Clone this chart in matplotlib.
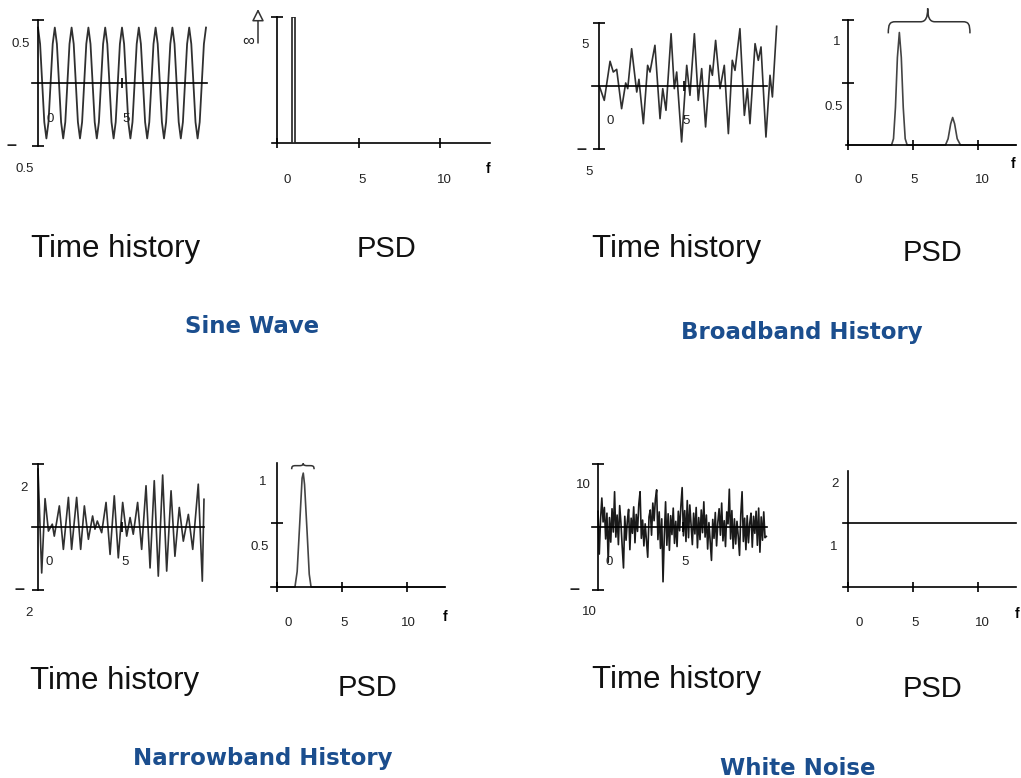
import numpy as np
import matplotlib
matplotlib.use("Agg")
import matplotlib.pyplot as plt
from matplotlib.path import Path
from matplotlib.patches import PathPatch

# ---------------------------------------------------------------- data
# Sine wave time history (values read every 1/8 of a period)
sine_values = [
    0.44, 0.31, 0.0, -0.31, -0.44, -0.31, 0.0, 0.31,
    0.44, 0.31, 0.0, -0.31, -0.44, -0.31, 0.0, 0.31,
    0.44, 0.31, 0.0, -0.31, -0.44, -0.31, 0.0, 0.31,
    0.44, 0.31, 0.0, -0.31, -0.44, -0.31, 0.0, 0.31,
    0.44, 0.31, 0.0, -0.31, -0.44, -0.31, 0.0, 0.31,
    0.44, 0.31, 0.0, -0.31, -0.44, -0.31, 0.0, 0.31,
    0.44, 0.31, 0.0, -0.31, -0.44, -0.31, 0.0, 0.31,
    0.44, 0.31, 0.0, -0.31, -0.44, -0.31, 0.0, 0.31,
    0.44, 0.31, 0.0, -0.31, -0.44, -0.31, 0.0, 0.31,
    0.44, 0.31, 0.0, -0.31, -0.44, -0.31, 0.0, 0.31,
    0.44,
]
sine_time = np.linspace(0, 10, len(sine_values))

# Broadband time history (turning points)
bb_time = [0.02, 0.31, 0.65, 0.84, 1.04, 1.33, 1.57, 1.69, 1.92, 2.22, 2.35, 2.61,
           2.86, 3.00, 3.29, 3.59, 3.75, 3.94, 4.24, 4.43, 4.57, 4.86, 5.16, 5.35,
           5.61, 5.84, 6.04, 6.27, 6.53, 6.67, 6.86, 7.12, 7.37, 7.61, 7.84, 8.00,
           8.29, 8.55, 8.73, 8.88, 9.18, 9.37, 9.53, 9.82, 10.06, 10.20, 10.45]
bb_values = [0.0, -1.14, 1.96, 1.11, 1.32, -1.80, 0.24, -0.21, 2.96, -0.48, 0.53, -2.99,
             1.64, 1.11, 3.23, -2.59, -0.21, -1.93, 4.15, -0.21, 1.11, -4.44, 1.64, -0.74,
             4.15, -1.14, 1.38, -3.25, 1.64, 0.85, 3.62, -0.21, 1.64, -3.78, 2.04, 1.24,
             4.55, -2.33, -0.21, -2.99, 3.36, 2.04, 3.10, -4.05, 0.85, -0.87, 4.74]

# Narrowband time history (turning points)
nb_time = [0.0, 0.22, 0.42, 0.62, 0.85, 0.97, 1.27, 1.51, 1.81, 2.00, 2.30, 2.54,
           2.76, 3.00, 3.25, 3.39, 3.53, 3.79, 4.05, 4.29, 4.54, 4.78, 5.04, 5.28,
           5.48, 5.67, 5.93, 6.17, 6.43, 6.67, 6.92, 7.16, 7.42, 7.66, 7.92, 8.15,
           8.41, 8.65, 8.95, 9.21, 9.54, 9.78, 9.88]
nb_values = [1.84, -1.46, 0.90, -0.13, 0.09, -0.29, 0.67, -0.71, 0.94, -0.71, 0.94, -0.71,
             0.67, -0.39, 0.35, -0.07, 0.19, -0.18, 0.78, -0.87, 0.99, -0.98, 0.78, -0.29,
             0.30, -0.23, 0.78, -0.71, 1.31, -1.30, 1.47, -1.56, 1.65, -1.40, 1.15, -0.93,
             0.62, -0.45, 0.40, -0.71, 1.36, -1.72, 0.88]

# White noise time history (estimated samples)
wn_values = [
    2.5, -4.3, 1.2, 4.6, 0.8, 3.1, -1.9, 2.2, -5.6, 1.5, -2.4, 2.9, -0.8, 5.6,
    -1.6, 1.9, -2.8, 3.4, 0.6, -3.2, -6.5, 1.7, -2.1, 0.9, 2.8, -3.6, 1.4, -1.0,
    3.2, -2.5, 2.0, -0.7, 3.6, 5.6, -1.8, 1.1, -3.0, 0.5, -2.2, -4.8, 1.6, 2.7,
    -1.3, 3.8, 1.0, 4.4, 5.9, -2.0, 2.4, -3.4, 1.3, -8.7, -1.5, 4.0, -2.9, 2.1,
    -3.7, 1.8, -1.2, 3.0, -2.6, 0.9, -3.1, 2.5, -0.6, 3.3, 6.25, -1.4, 2.6, -2.3,
    4.2, -1.7, 3.5, 0.4, -2.8, 2.2, -1.1, 3.1, -3.3, 1.5, -2.0, 2.7, -0.9, 4.0,
    -1.6, 1.9, -3.5, 0.7, -2.4, -5.3, 1.2, -1.8, 2.3, -3.0, 0.8, 2.9, -1.3, 3.8,
    -2.2, 1.0, -3.1, 2.4, 0.5, 6.0, -1.9, 2.6, -3.4, 1.3, -2.7, 0.9, -1.5, -4.5,
    2.0, 5.6, -2.3, 1.4, -3.6, 1.8, -2.5, 0.6, 2.2, -3.2, 1.7, -1.0, 2.5, -2.9,
    3.0, -4.0, 1.6, -2.1, 2.4, -1.7, -1.5,
]
wn_time = np.linspace(0, 9.9, len(wn_values))

# PSDs
sine_psd_freq = [1.0]
sine_psd_level = [1.0]          # spike drawn up to the top ("infinite")
sine_psd_width = 0.2

bb_psd_freq = [0, 3.35, 3.5, 3.65, 3.8, 3.95, 4.1, 4.25, 4.4, 4.55,
               7.5, 7.7, 7.9, 8.05, 8.2, 8.4, 8.65, 12.9]
bb_psd_level = [0, 0, 0.05, 0.3, 0.7, 0.9, 0.7, 0.3, 0.05, 0,
                0, 0.05, 0.17, 0.22, 0.17, 0.05, 0, 0]

nb_psd_freq = [0, 1.38, 1.55, 1.75, 1.93, 2.02, 2.12, 2.32, 2.48, 2.62, 12.9]
nb_psd_level = [0, 0, 0.12, 0.5, 0.85, 0.89, 0.8, 0.42, 0.1, 0, 0]

wn_psd_freq = [-0.38, 12.92]
wn_psd_level = [1.1, 1.1]

time_ticks = [5]
freq_ticks = [0, 5, 10]

# ---------------------------------------------------------------- figure
W, H = 1021, 778
fig = plt.figure(figsize=(W / 100, H / 100), dpi=100)
fig.patch.set_facecolor("white")

AX = "black"
SIG = "#303030"
LBL = "#222222"
BLUE = "#1B4E8E"
FONT = "Liberation Sans"
TSZ = 9.5


def add_px_axes(x0, x1, top, bottom):
    ax = fig.add_axes([x0 / W, 1 - bottom / H, (x1 - x0) / W, (bottom - top) / H])
    ax.patch.set_alpha(0)
    ax.spines[["top", "right"]].set_visible(False)
    for s in ("left", "bottom"):
        ax.spines[s].set_linewidth(1.2)
        ax.spines[s].set_color(AX)
    return ax


def time_panel(x0, x1, axis_x, top, bottom, xs, ymax, zero_right):
    ax = add_px_axes(x0, x1, top, bottom)
    ax.set_xlim((x0 - axis_x) / xs, (x1 - axis_x) / xs)
    ax.set_ylim(-ymax, ymax)
    ax.spines["left"].set_position(("data", 0))
    ax.spines["bottom"].set_position(("data", 0))
    ax.spines["bottom"].set_bounds((x0 - axis_x) / xs, (zero_right - axis_x) / xs)
    ax.set_xticks(time_ticks)
    ax.set_yticks([-ymax, ymax])
    ax.tick_params(axis="y", direction="inout", length=8.6, width=1.2, color=AX,
                   labelleft=False)
    ax.tick_params(axis="x", direction="inout", length=7.5, width=1.2, color=AX,
                   labelbottom=False)
    return ax


def psd_panel(x0, x1, axis_x, top, bottom, xs, ymax, yticks, spine_top=None):
    ax = add_px_axes(x0, x1, top, bottom)
    ax.set_xlim((x0 - axis_x) / xs, (x1 - axis_x) / xs)
    ax.set_ylim(0, ymax)
    ax.spines["left"].set_position(("data", 0))
    if spine_top is not None:
        ax.spines["left"].set_bounds(0, spine_top)
    ax.set_xticks(freq_ticks)
    ax.set_yticks(yticks)
    ax.tick_params(axis="x", direction="inout", length=7.8, width=1.2, color=AX,
                   labelbottom=False)
    ax.tick_params(axis="y", direction="inout", length=8.3, width=1.2, color=AX,
                   labelleft=False)
    return ax


def brace(ax, xl, xr, xm, ye, yb, yt, c):
    verts = [(xl, ye),
             (xl, ye + (yb - ye) * 0.8), (xl + c * 0.2, yb), (xl + c, yb),
             (xm - c, yb),
             (xm - c * 0.3, yb), (xm, yb + (yt - yb) * 0.3), (xm, yt),
             (xm, yb + (yt - yb) * 0.3), (xm + c * 0.3, yb), (xm + c, yb),
             (xr - c, yb),
             (xr - c * 0.2, yb), (xr, ye + (yb - ye) * 0.8), (xr, ye)]
    codes = [Path.MOVETO,
             Path.CURVE4, Path.CURVE4, Path.CURVE4,
             Path.LINETO,
             Path.CURVE4, Path.CURVE4, Path.CURVE4,
             Path.CURVE4, Path.CURVE4, Path.CURVE4,
             Path.LINETO,
             Path.CURVE4, Path.CURVE4, Path.CURVE4]
    ax.add_patch(PathPatch(Path(verts, codes), fc="none", ec="#333333", lw=1.1,
                           clip_on=False))


def T(x, y, s, size=TSZ, va="baseline", ha="center", **kw):
    kw.setdefault("color", LBL)
    kw.setdefault("family", FONT)
    fig.text(x / W, 1 - y / H, s, fontsize=size, va=va, ha=ha, **kw)


def dash(x, y):
    T(x, y, "–", size=13, va="center", weight="bold")


# ---- Sine wave
ax = time_panel(32, 210, 38, 20, 146, 16.8, 0.5, 207)
ax.plot(sine_time, sine_values, color=SIG, lw=1.3, clip_on=False, zorder=1)
T(21, 47, "0.5"); dash(11, 146); T(25, 172, "0.5")
T(50, 122, "0"); T(126, 122, "5")

ax = psd_panel(272, 490, 277, 17, 143, 16.3, 1.0, [1.0])
ax.bar(sine_psd_freq, sine_psd_level, width=sine_psd_width, color="white",
       edgecolor="#222222", linewidth=1.2, zorder=3)
ax.annotate("", xy=((258 - 277) / 16.3, (143 - 9) / 126),
            xytext=((258 - 277) / 16.3, (143 - 43) / 126),
            arrowprops=dict(arrowstyle="-|>", fc="white", ec="#333333", lw=1.1,
                            mutation_scale=18, shrinkA=0, shrinkB=0),
            annotation_clip=False)
T(248, 46, "∞", size=12)
T(287, 183, "0"); T(362, 183, "5"); T(444, 183, "10")
T(488, 173, "f", weight="bold", color="black", size=10)

# ---- Broadband
ax = time_panel(592, 780, 599, 23, 149, 17.0, 5, 767)
ax.plot(bb_time, bb_values, color=SIG, lw=1.2, clip_on=False, zorder=1)
T(585, 48, "5"); dash(581, 149); T(589, 175, "5")
T(610, 124, "0"); T(686, 124, "5")

ax = psd_panel(846, 1016, 848, 20, 145, 13.0, 1.0, [0.5, 1.0])
ax.plot(bb_psd_freq, bb_psd_level, color="#444444", lw=1.2, clip_on=False, zorder=1)
brace(ax, 3.10, 9.38, 6.13, 0.893, 0.986, 1.093, 0.55)
T(837, 45, "1"); T(834, 110, "0.5")
T(858, 183, "0"); T(914, 183, "5"); T(982, 183, "10")
T(1013, 168, "f", weight="bold", color="black", size=10)

# ---- Narrowband
ax = time_panel(32, 208, 38, 464, 590, 16.8, 2, 204)
ax.plot(nb_time, nb_values, color=SIG, lw=1.2, clip_on=False, zorder=1)
T(24, 491, "2"); dash(19, 590); T(29, 616, "2")
T(49, 565, "0"); T(125, 565, "5")

ax = psd_panel(271, 445, 277, 459, 587, 13.0, 1.0, [0.5], spine_top=0.97)
ax.plot(nb_psd_freq, nb_psd_level, color="#444444", lw=1.2, clip_on=False, zorder=1)
brace(ax, 1.13, 2.85, 2.02, 0.92, 0.948, 0.966, 0.3)
T(263, 485, "1"); T(260, 550, "0.5")
T(288, 626, "0"); T(344, 626, "5"); T(408, 626, "10")
T(445, 621, "f", weight="bold", color="black", size=10)

# ---- White noise
ax = time_panel(592, 770, 598, 464, 590, 17.0, 10, 767)
ax.plot(wn_time, wn_values, color="#1a1a1a", lw=1.2, clip_on=False, zorder=1)
T(583, 488, "10"); dash(574, 590); T(589, 615, "10")
T(609, 565, "0"); T(685, 565, "5")

ax = psd_panel(843, 1016, 848, 471, 587, 13.0, 2.0, [])
ax.plot(wn_psd_freq, wn_psd_level, color=AX, lw=1.2, clip_on=False, zorder=1)
T(835, 487, "2"); T(834, 550, "1")
T(859, 626, "0"); T(915, 626, "5"); T(982, 626, "10")
T(1017, 618, "f", weight="bold", color="black", size=10)

# ---- captions
for x, y in [(116, 257), (677, 257), (115, 689), (677, 688)]:
    T(x, y, "Time history", size=22.5, color="#111111")
for x, y in [(386, 257), (932, 261), (367, 696), (932, 697)]:
    T(x, y, "PSD", size=21, color="#111111")

titles = [(252, 333, "Sine Wave"), (802, 339, "Broadband History"),
          (263, 765, "Narrowband History"), (798, 775, "White Noise")]
for x, y, s in titles:
    T(x, y, s, size=16.5, color=BLUE, weight="bold", family="DejaVu Sans")

fig.savefig("out.png", dpi=100, facecolor="white")
